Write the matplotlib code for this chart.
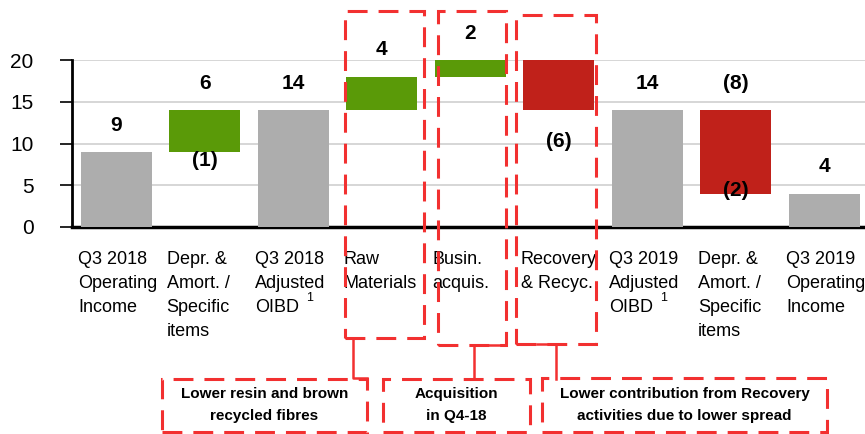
import matplotlib.pyplot as plt
import matplotlib.transforms as mtransforms
from matplotlib.patches import Rectangle
from matplotlib.lines import Line2D

plt.rcParams["font.family"] = ["Liberation Sans", "DejaVu Sans"]

# chart data
categories = [
    "Q3 2018\nOperating\nIncome",
    "Depr. &\nAmort. /\nSpecific\nitems",
    "Q3 2018\nAdjusted\nOIBD",
    "Raw\nMaterials",
    "Busin.\nacquis.",
    "Recovery\n& Recyc.",
    "Q3 2019\nAdjusted\nOIBD",
    "Depr. &\nAmort. /\nSpecific\nitems",
    "Q3 2019\nOperating\nIncome",
]
bar_low = [0, 9, 0, 14, 18, 14, 0, 4, 0]
bar_high = [9, 14, 14, 18, 20, 20, 14, 14, 4]
kinds = ["total", "up", "total", "up", "up", "down", "total", "down", "total"]
upper_labels = ["9", "6", "14", "4", "2", "", "14", "(8)", "4"]
lower_labels = ["", "(1)", "", "", "", "(6)", "", "(2)", ""]
footnote_bars = [2, 6]
notes = [
    "Lower resin and brown\nrecycled fibres",
    "Acquisition\nin Q4-18",
    "Lower contribution from Recovery\nactivities due to lower spread",
]

colors = {"total": "#adadad", "up": "#5a9a08", "down": "#c0211a"}
RED = "#f23030"
W, H = 865, 434

fig = plt.figure(figsize=(W / 100, H / 100), dpi=100)
ax = fig.add_axes([72 / W, 1 - 227 / H, (W - 72) / W, 167 / H])

xs = list(range(len(categories)))
heights = [h - l for l, h in zip(bar_low, bar_high)]
ax.bar(xs, heights, bottom=bar_low, width=0.8,
       color=[colors[k] for k in kinds], zorder=3)

ax.set_xlim(-0.5, 8.46)
ax.set_ylim(0, 20)
ax.set_yticks([0, 5, 10, 15, 20])
ax.set_xticks([])
ax.grid(axis="y", color="#d0d0d0", lw=1.2, zorder=0)
for s in ["top", "right"]:
    ax.spines[s].set_visible(False)
ax.spines["left"].set_linewidth(2)
ax.spines["bottom"].set_linewidth(2.5)
ax.tick_params(axis="y", length=8.6, width=1.2, pad=19, labelsize=15)

# value labels
lower_offset = {1: -1.0, 5: -3.8, 7: 0.4}
for i in xs:
    if upper_labels[i]:
        ax.text(i, bar_high[i] + 3.2, upper_labels[i], ha="center", va="center",
                fontsize=15, fontweight="bold", clip_on=False, zorder=5)
    if lower_labels[i]:
        ax.text(i, bar_low[i] + lower_offset[i], lower_labels[i], ha="center",
                va="center", fontsize=15, fontweight="bold", zorder=5)

# category labels
trans = mtransforms.blended_transform_factory(ax.transData, fig.transFigure)
for i, c in enumerate(categories):
    fig.text(i - 0.43, 1 - 251 / H, c, transform=trans, ha="left", va="top",
             fontsize=13, linespacing=1.55)
for i in footnote_bars:
    fig.text(i - 0.43 + 54 / 88.5, 1 - 298 / H, "1", transform=trans,
             ha="center", va="center", fontsize=9)


def px(x, y):
    return x / W, 1 - y / H


def dashed_box(x0, y0, x1, y1):
    fx, fy = px(x0, y1)
    fig.patches.append(Rectangle((fx, fy), (x1 - x0) / W, (y1 - y0) / H,
                                 transform=fig.transFigure, fill=False,
                                 ec=RED, lw=2.2, ls=(0, (6.5, 3.6)), zorder=10))


def connector(points):
    xx = [p[0] / W for p in points]
    yy = [1 - p[1] / H for p in points]
    fig.lines.append(Line2D(xx, yy, transform=fig.transFigure, color=RED,
                            lw=1.8, zorder=10))


dashed_box(345, 11, 424, 338)
dashed_box(438, 11, 506, 345)
dashed_box(516, 15, 596, 344)

note_boxes = [(162, 379, 367, 432), (383, 379, 530, 432), (542, 378, 827, 432)]
for (x0, y0, x1, y1), t in zip(note_boxes, notes):
    dashed_box(x0, y0, x1, y1)
    fig.text(*px((x0 + x1) / 2, 405), t, ha="center", va="center",
             fontsize=11, fontweight="bold", linespacing=1.75)

connector([(353, 338), (353, 378), (367, 378)])
connector([(506, 345), (474, 345), (474, 379)])
connector([(537, 344), (556, 344), (556, 379)])

fig.savefig("out.png", dpi=100)
